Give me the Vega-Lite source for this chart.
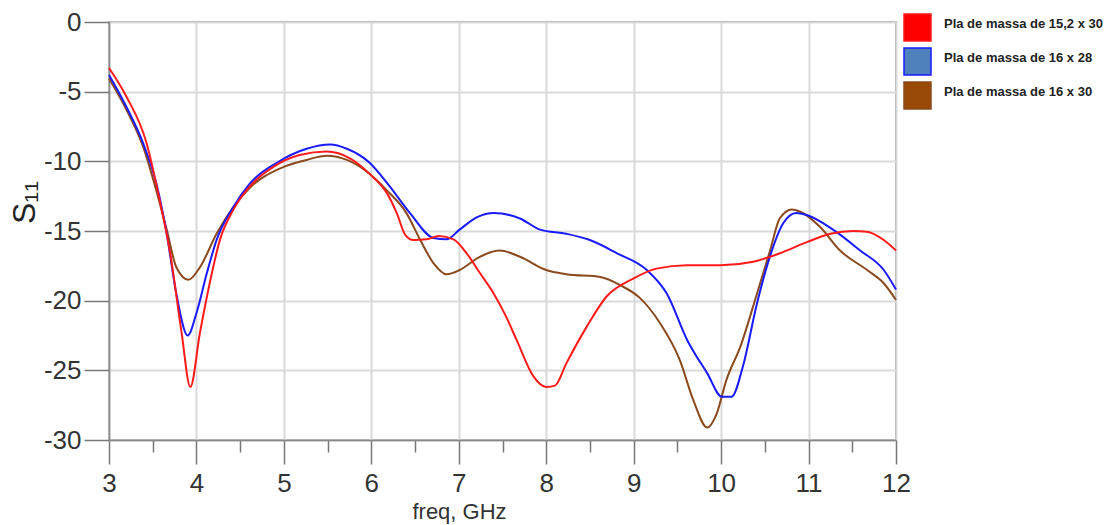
{
  "$schema": "https://vega.github.io/schema/vega-lite/v6.json",
  "width": 787,
  "height": 418,
  "autosize": {"type": "none"},
  "padding": {"left": 109, "top": 22, "right": 214, "bottom": 85},
  "background": "white",
  "config": {
    "view": {"stroke": "#888888", "strokeWidth": 1.5},
    "font": "Liberation Sans"
  },
  "datasets": {
    "red": [
      {"f": 3.0, "s": -3.3}, {"f": 3.2, "s": -5.36}, {"f": 3.43, "s": -8.7}, {"f": 3.58, "s": -12.8},
      {"f": 3.7, "s": -16.6}, {"f": 3.83, "s": -22.3}, {"f": 3.93, "s": -26.2}, {"f": 4.04, "s": -22.3},
      {"f": 4.16, "s": -18.5}, {"f": 4.27, "s": -15.6}, {"f": 4.42, "s": -13.5}, {"f": 4.61, "s": -11.8},
      {"f": 4.88, "s": -10.4}, {"f": 5.18, "s": -9.55}, {"f": 5.49, "s": -9.3}, {"f": 5.76, "s": -9.8},
      {"f": 5.98, "s": -10.9}, {"f": 6.18, "s": -12.3}, {"f": 6.29, "s": -13.7}, {"f": 6.39, "s": -15.3},
      {"f": 6.48, "s": -15.65}, {"f": 6.63, "s": -15.6}, {"f": 6.77, "s": -15.35}, {"f": 6.94, "s": -15.6},
      {"f": 7.09, "s": -16.6}, {"f": 7.24, "s": -18.0}, {"f": 7.4, "s": -19.5}, {"f": 7.53, "s": -21.0},
      {"f": 7.66, "s": -22.8}, {"f": 7.85, "s": -25.4}, {"f": 8.0, "s": -26.2}, {"f": 8.1, "s": -26.1},
      {"f": 8.23, "s": -24.5}, {"f": 8.46, "s": -21.9}, {"f": 8.69, "s": -19.7}, {"f": 9.0, "s": -18.4},
      {"f": 9.26, "s": -17.7}, {"f": 9.61, "s": -17.45}, {"f": 9.99, "s": -17.45}, {"f": 10.37, "s": -17.2},
      {"f": 10.67, "s": -16.6}, {"f": 10.98, "s": -15.8}, {"f": 11.25, "s": -15.2}, {"f": 11.51, "s": -15.0},
      {"f": 11.67, "s": -15.05}, {"f": 11.86, "s": -15.65}, {"f": 12.0, "s": -16.4}
    ],
    "blue": [
      {"f": 3.0, "s": -3.8}, {"f": 3.2, "s": -6.1}, {"f": 3.39, "s": -8.7}, {"f": 3.55, "s": -11.8},
      {"f": 3.66, "s": -15.2}, {"f": 3.77, "s": -19.5}, {"f": 3.9, "s": -22.5}, {"f": 4.0, "s": -20.9},
      {"f": 4.12, "s": -18.0}, {"f": 4.23, "s": -15.65}, {"f": 4.42, "s": -13.3}, {"f": 4.61, "s": -11.6},
      {"f": 4.92, "s": -10.1}, {"f": 5.26, "s": -9.1}, {"f": 5.53, "s": -8.8}, {"f": 5.72, "s": -9.1},
      {"f": 5.98, "s": -10.1}, {"f": 6.21, "s": -11.8}, {"f": 6.44, "s": -13.7}, {"f": 6.71, "s": -15.5},
      {"f": 6.86, "s": -15.6}, {"f": 7.01, "s": -14.9}, {"f": 7.21, "s": -14.0}, {"f": 7.4, "s": -13.7},
      {"f": 7.7, "s": -14.1}, {"f": 7.93, "s": -14.9}, {"f": 8.23, "s": -15.2}, {"f": 8.5, "s": -15.65},
      {"f": 8.81, "s": -16.6}, {"f": 9.15, "s": -17.8}, {"f": 9.38, "s": -19.5}, {"f": 9.61, "s": -22.8},
      {"f": 9.84, "s": -25.2}, {"f": 10.01, "s": -26.9}, {"f": 10.12, "s": -26.9}, {"f": 10.25, "s": -24.7},
      {"f": 10.41, "s": -20.2}, {"f": 10.56, "s": -16.8}, {"f": 10.71, "s": -14.45}, {"f": 10.86, "s": -13.7},
      {"f": 10.98, "s": -13.85}, {"f": 11.28, "s": -14.9}, {"f": 11.59, "s": -16.4}, {"f": 11.86, "s": -17.8},
      {"f": 12.0, "s": -19.2}
    ],
    "brown": [
      {"f": 3.0, "s": -4.05}, {"f": 3.2, "s": -6.3}, {"f": 3.39, "s": -8.95}, {"f": 3.55, "s": -12.3},
      {"f": 3.66, "s": -14.9}, {"f": 3.77, "s": -17.6}, {"f": 3.91, "s": -18.5}, {"f": 4.04, "s": -17.6},
      {"f": 4.23, "s": -15.2}, {"f": 4.42, "s": -13.3}, {"f": 4.61, "s": -11.9}, {"f": 4.96, "s": -10.5},
      {"f": 5.26, "s": -9.9}, {"f": 5.49, "s": -9.6}, {"f": 5.72, "s": -9.9}, {"f": 5.95, "s": -10.75},
      {"f": 6.18, "s": -12.1}, {"f": 6.4, "s": -13.7}, {"f": 6.56, "s": -15.65}, {"f": 6.71, "s": -17.3},
      {"f": 6.86, "s": -18.1}, {"f": 7.01, "s": -17.8}, {"f": 7.24, "s": -16.85}, {"f": 7.47, "s": -16.4},
      {"f": 7.7, "s": -16.85}, {"f": 8.0, "s": -17.8}, {"f": 8.23, "s": -18.1}, {"f": 8.62, "s": -18.3},
      {"f": 8.85, "s": -18.9}, {"f": 9.07, "s": -19.8}, {"f": 9.3, "s": -21.6}, {"f": 9.53, "s": -24.3},
      {"f": 9.68, "s": -27.1}, {"f": 9.84, "s": -29.1}, {"f": 9.95, "s": -28.1}, {"f": 10.06, "s": -25.7},
      {"f": 10.22, "s": -23.3}, {"f": 10.41, "s": -19.5}, {"f": 10.56, "s": -16.4}, {"f": 10.67, "s": -14.1},
      {"f": 10.81, "s": -13.45}, {"f": 10.9, "s": -13.6}, {"f": 11.13, "s": -14.7}, {"f": 11.36, "s": -16.4},
      {"f": 11.67, "s": -17.8}, {"f": 11.86, "s": -18.75}, {"f": 12.0, "s": -19.95}
    ]
  },
  "layer": [
    {
      "data": {"name": "brown"},
      "transform": [{"calculate": "'Pla de massa de 16 x 30'", "as": "series"}],
      "mark": {"type": "line", "interpolate": "monotone", "strokeWidth": 2},
      "encoding": {
        "x": {"field": "f", "type": "quantitative"},
        "y": {"field": "s", "type": "quantitative"},
        "color": {"field": "series", "type": "nominal"}
      }
    },
    {
      "data": {"name": "blue"},
      "transform": [{"calculate": "'Pla de massa de 16 x 28'", "as": "series"}],
      "mark": {"type": "line", "interpolate": "monotone", "strokeWidth": 2},
      "encoding": {
        "x": {"field": "f", "type": "quantitative"},
        "y": {"field": "s", "type": "quantitative"},
        "color": {"field": "series", "type": "nominal"}
      }
    },
    {
      "data": {"name": "red"},
      "transform": [{"calculate": "'Pla de massa de 15,2 x 30'", "as": "series"}],
      "mark": {"type": "line", "interpolate": "monotone", "strokeWidth": 2},
      "encoding": {
        "x": {
          "field": "f", "type": "quantitative",
          "scale": {"domain": [3, 12], "nice": false, "zero": false},
          "axis": {
            "title": "freq, GHz",
            "values": [3, 3.5, 4, 4.5, 5, 5.5, 6, 6.5, 7, 7.5, 8, 8.5, 9, 9.5, 10, 10.5, 11, 11.5, 12],
            "labelExpr": "datum.value % 1 === 0 ? toString(datum.value) : ''",
            "labelFontSize": 26, "labelColor": "#333333", "labelPadding": 6,
            "labelFlush": false, "labelOverlap": false,
            "tickSize": {"condition": {"test": "datum.value % 1 !== 0", "value": 12}, "value": 24},
            "tickColor": "#777777", "tickWidth": 1.5,
            "domainColor": "#888888", "domainWidth": 1.5,
            "grid": true, "gridColor": "#d9d9d9", "gridWidth": 2,
            "gridOpacity": {"condition": {"test": "datum.value % 1 !== 0", "value": 0}, "value": 1},
            "titleFontSize": 22, "titleFontWeight": "normal", "titleColor": "#333333",
            "titleX": 350, "titleY": 78, "titleAlign": "center", "titleBaseline": "alphabetic"
          }
        },
        "y": {
          "field": "s", "type": "quantitative",
          "scale": {"domain": [-30, 0], "nice": false, "zero": false},
          "axis": {
            "title": "S₁₁",
            "values": [-30, -25, -20, -15, -10, -5, 0],
            "labelExpr": "toString(datum.value)",
            "labelFontSize": 26, "labelColor": "#333333", "labelPadding": 3,
            "tickSize": 25, "tickColor": "#777777", "tickWidth": 1.5,
            "domainColor": "#888888", "domainWidth": 1.5,
            "grid": true, "gridColor": "#d9d9d9", "gridWidth": 2,
            "titleFontSize": 32, "titleFontWeight": "normal", "titleColor": "#222222",
            "titleAngle": -90, "titleX": -85, "titleY": 180, "titleAlign": "center", "titleBaseline": "middle"
          }
        },
        "color": {
          "field": "series", "type": "nominal",
          "scale": {"domain": ["Pla de massa de 15,2 x 30", "Pla de massa de 16 x 28", "Pla de massa de 16 x 30"],
                    "range": ["#ff1a1a", "#1a1aff", "#8b4a1e"]},
          "legend": {
            "title": null, "orient": "none", "legendX": 794, "legendY": -9,
            "padding": 0, "symbolType": "square", "symbolSize": 729,
            "symbolStrokeWidth": 1.5, "rowPadding": 1, "labelOffset": 12,
            "labelFontSize": 13, "labelFontWeight": "bold", "labelColor": "#222222",
            "labelBaseline": "alphabetic", "labelLimit": 300,
            "encode": {"symbols": {"update": {
              "fill": {"signal": "datum.value === 'Pla de massa de 16 x 28' ? '#4f81bd' : datum.value === 'Pla de massa de 16 x 30' ? '#984807' : '#ff0000'"},
              "stroke": {"signal": "datum.value === 'Pla de massa de 16 x 28' ? '#385d8a' : datum.value === 'Pla de massa de 16 x 30' ? '#984807' : '#ff0000'"},
              "fillOpacity": {"value": 1}, "opacity": {"value": 1}}}}
          }
        }
      }
    }
  ]
}
